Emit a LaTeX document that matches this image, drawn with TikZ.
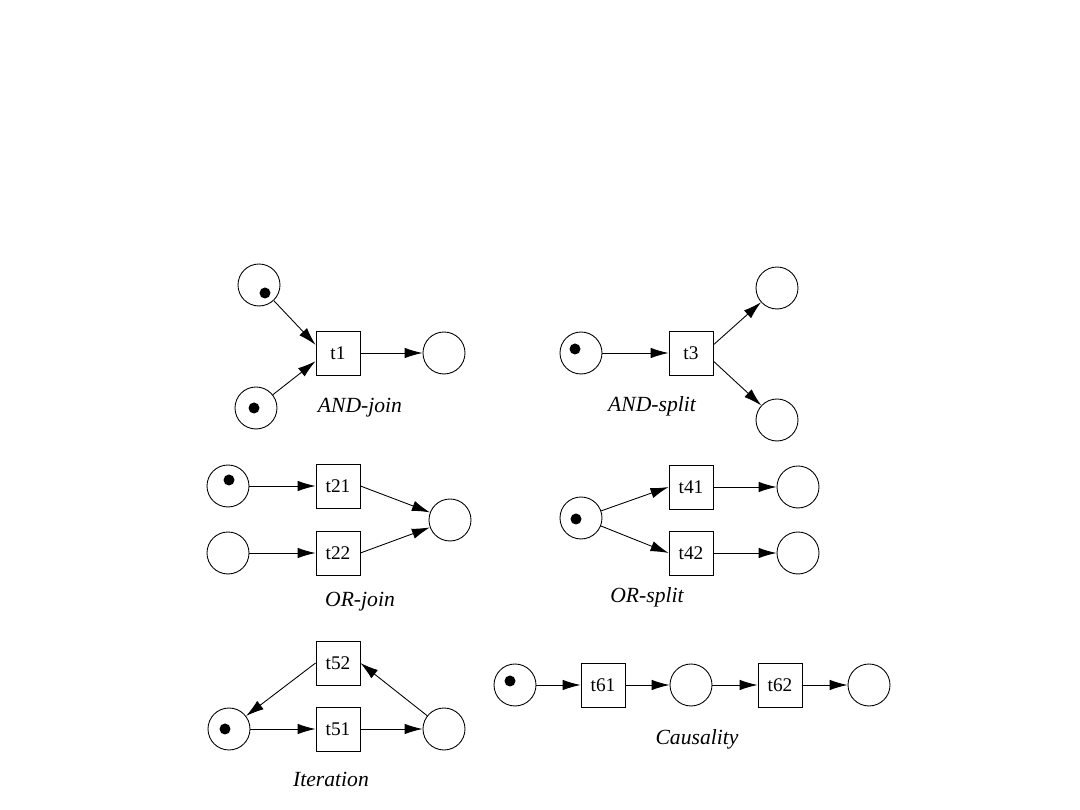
\documentclass[tikz,border=0pt]{standalone}
\usepackage{fontspec}
\setmainfont{Liberation Serif}
\usetikzlibrary{arrows.meta}
\tikzset{
  place/.style={draw, circle, minimum size=0.84cm, inner sep=0pt},
  transition/.style={draw, rectangle, minimum size=0.88cm, inner sep=0pt, font=\fontsize{11}{13}\selectfont},
  token/.style={fill, circle, minimum size=0.22cm, inner sep=0pt},
  caption/.style={font=\fontsize{12.3}{14}\selectfont\itshape}
}
\begin{document}
\begin{tikzpicture}[x=0.02cm, y=-0.02cm, line width=0.5pt, >={Latex[length=3.6mm,width=2.1mm]}]
  \useasboundingbox (0,0) rectangle (1080,810);
  % AND-join
  \node[place] (p1a) at (259,285) {};
  \node[place] (p1b) at (256,408) {};
  \node[transition] (t1) at (338,353) {t1};
  \node[place] (p1c) at (444,353) {};
  \node[token] (k1a) at (265,293) {};
  \node[token] (k1b) at (254,408) {};
  \draw[->] (p1a) -- (t1.160);
  \draw[->] (p1b) -- (t1.200);
  \draw[->] (t1) -- (p1c);
  \node[caption] (c1) at (360,408) {AND-join};
  % AND-split
  \node[place] (p3a) at (581,353) {};
  \node[transition] (t3) at (691,353) {t3};
  \node[place] (p3b) at (777,288) {};
  \node[place] (p3c) at (777,420) {};
  \node[token] (k3a) at (575,349) {};
  \draw[->] (p3a) -- (t3);
  \draw[->] (t3.20) -- (p3b);
  \draw[->] (t3.340) -- (p3c);
  \node[caption] (c3) at (652,406) {AND-split};
  % OR-join
  \node[place] (p2a) at (228,486) {};
  \node[place] (p2b) at (228,553) {};
  \node[transition] (t21) at (338,486) {t21};
  \node[transition] (t22) at (338,553) {t22};
  \node[place] (p2c) at (450,520) {};
  \node[token] (k2a) at (229,480) {};
  \draw[->] (p2a) -- (t21);
  \draw[->] (p2b) -- (t22);
  \draw[->] (t21.east) -- (p2c);
  \draw[->] (t22.east) -- (p2c);
  \node[caption] (c2) at (360,602) {OR-join};
  % OR-split
  \node[place] (p4a) at (581,518) {};
  \node[transition] (t41) at (691,487) {t41};
  \node[transition] (t42) at (691,553) {t42};
  \node[place] (p4b) at (798,487) {};
  \node[place] (p4c) at (798,553) {};
  \node[token] (k4a) at (576,519) {};
  \draw[->] (p4a) -- (t41.west);
  \draw[->] (p4a) -- (t42.west);
  \draw[->] (t41) -- (p4b);
  \draw[->] (t42) -- (p4c);
  \node[caption] (c4) at (647,597) {OR-split};
  % Iteration
  \node[transition] (t52) at (338,663) {t52};
  \node[transition] (t51) at (338,729) {t51};
  \node[place] (p5a) at (229,729) {};
  \node[place] (p5b) at (444,729) {};
  \node[token] (k5a) at (225,729) {};
  \draw[->] (t52.west) -- (p5a);
  \draw[->] (p5a) -- (t51);
  \draw[->] (t51) -- (p5b);
  \draw[->] (p5b) -- (t52.east);
  \node[caption] (c5) at (331,779) {Iteration};
  % Causality
  \node[place] (p6a) at (515,685) {};
  \node[transition] (t61) at (603,685) {t61};
  \node[place] (p6b) at (691,685) {};
  \node[transition] (t62) at (780,685) {t62};
  \node[place] (p6c) at (869,685) {};
  \node[token] (k6a) at (510,681) {};
  \draw[->] (p6a) -- (t61);
  \draw[->] (t61) -- (p6b);
  \draw[->] (p6b) -- (t62);
  \draw[->] (t62) -- (p6c);
  \node[caption] (c6) at (697,739) {Causality};
\end{tikzpicture}
\end{document}
